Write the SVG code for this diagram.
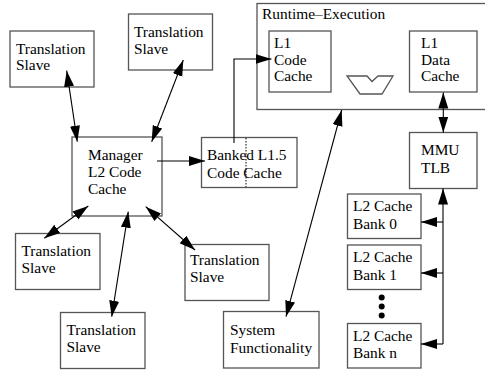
<svg xmlns="http://www.w3.org/2000/svg" width="485" height="372" viewBox="0 0 485 372">
<style>
.box{fill:#fff;stroke:#555;stroke-width:1.3}
.t{font-family:"Liberation Serif","Times New Roman",serif;font-size:15.4px;fill:#000}
.ln{fill:none;stroke:#000;stroke-width:1.1}
</style>
<defs>
<marker id="ah" markerUnits="userSpaceOnUse" markerWidth="17" markerHeight="11" refX="16" refY="5" orient="auto-start-reverse" viewBox="0 0 17 11">
<path d="M0,0 L16,5 L0,10 z" fill="#000"/>
</marker>
</defs>
<rect width="485" height="372" fill="#fff"/>
<g id="runtime">
<rect class="box" x="257" y="3.5" width="230" height="106"/>
<text class="t" x="262" y="19">Runtime–Execution</text>
</g>
<g id="l1code">
<rect class="box" x="269" y="31" width="62" height="61"/>
<text class="t" x="274" y="48">L1</text>
<text class="t" x="274" y="64.5">Code</text>
<text class="t" x="274" y="81">Cache</text>
</g>
<g id="l1data">
<rect class="box" x="409.5" y="31" width="67.5" height="61"/>
<text class="t" x="421" y="48">L1</text>
<text class="t" x="421" y="64.5">Data</text>
<text class="t" x="421" y="81">Cache</text>
</g>
<g id="mux">
<path d="M347,76 L367,76 L372,81.5 L378,76 L393,76 L382,94 L360,94 Z" fill="#fff" stroke="#555" stroke-width="1.3"/>
</g>
<g id="ts1">
<rect class="box" x="10" y="31" width="84" height="56"/>
<text class="t" x="16" y="53.5">Translation</text>
<text class="t" x="16" y="69.5">Slave</text>
</g>
<g id="ts2">
<rect class="box" x="128.5" y="14" width="84" height="56"/>
<text class="t" x="134" y="37">Translation</text>
<text class="t" x="134" y="53.5">Slave</text>
</g>
<g id="manager">
<rect class="box" x="72" y="137" width="90" height="79"/>
<text class="t" x="88" y="160">Manager</text>
<text class="t" x="88" y="177">L2 Code</text>
<text class="t" x="88" y="193.5">Cache</text>
</g>
<g id="banked">
<rect class="box" x="201.5" y="137.5" width="95.5" height="50"/>
<line x1="246" y1="138" x2="246" y2="187" stroke="#000" stroke-width="1" stroke-dasharray="1.5,1.5"/>
<text class="t" x="207" y="160">Banked L1.5</text>
<text class="t" x="207" y="178">Code Cache</text>
</g>
<g id="mmu">
<rect class="box" x="409.5" y="132.5" width="67.5" height="56"/>
<text class="t" x="421" y="155">MMU</text>
<text class="t" x="421" y="172.5">TLB</text>
</g>
<g id="ts3">
<rect class="box" x="15.5" y="233.5" width="84.5" height="56"/>
<text class="t" x="21.5" y="256">Translation</text>
<text class="t" x="21.5" y="272.5">Slave</text>
</g>
<g id="ts5">
<rect class="box" x="185" y="244.5" width="84" height="56"/>
<text class="t" x="190" y="265">Translation</text>
<text class="t" x="190" y="281.5">Slave</text>
</g>
<g id="ts4">
<rect class="box" x="60.5" y="312.5" width="84.5" height="56"/>
<text class="t" x="66.5" y="335">Translation</text>
<text class="t" x="66.5" y="351.5">Slave</text>
</g>
<g id="sysfunc">
<rect class="box" x="223.5" y="311.5" width="95.5" height="56.5"/>
<text class="t" x="230" y="335">System</text>
<text class="t" x="230" y="353">Functionality</text>
</g>
<g id="bank0">
<rect class="box" x="347.5" y="194" width="73.5" height="44.5"/>
<text class="t" x="353" y="211">L2 Cache</text>
<text class="t" x="353" y="228.5">Bank 0</text>
</g>
<g id="bank1">
<rect class="box" x="347.5" y="245" width="73.5" height="44.5"/>
<text class="t" x="353" y="262">L2 Cache</text>
<text class="t" x="353" y="279.5">Bank 1</text>
</g>
<g id="dots">
<circle cx="381.7" cy="297.5" r="3"/>
<circle cx="381.7" cy="306.5" r="3"/>
<circle cx="381.7" cy="315.5" r="3"/>
</g>
<g id="bankn">
<rect class="box" x="347.5" y="323.5" width="73.5" height="44.5"/>
<text class="t" x="353" y="340.5">L2 Cache</text>
<text class="t" x="353" y="358">Bank n</text>
</g>
<g id="connectors">
<line class="ln" x1="66.7" y1="70.7" x2="77.3" y2="141.7" marker-start="url(#ah)" marker-end="url(#ah)"/>
<line class="ln" x1="183.3" y1="60" x2="151.7" y2="141.7" marker-start="url(#ah)" marker-end="url(#ah)"/>
<line class="ln" x1="157" y1="161" x2="205" y2="161" marker-end="url(#ah)"/>
<path class="ln" d="M234,143 V59 H271.5" marker-end="url(#ah)"/>
<line class="ln" x1="88.3" y1="206" x2="44.3" y2="238.3" marker-start="url(#ah)" marker-end="url(#ah)"/>
<line class="ln" x1="128.3" y1="211.7" x2="111.7" y2="316.7" marker-start="url(#ah)" marker-end="url(#ah)"/>
<line class="ln" x1="145.7" y1="206.7" x2="195" y2="250" marker-start="url(#ah)" marker-end="url(#ah)"/>
<line class="ln" x1="341.7" y1="110" x2="286" y2="316.7" marker-start="url(#ah)" marker-end="url(#ah)"/>
<line class="ln" x1="443.3" y1="92.5" x2="443.3" y2="132.5" marker-start="url(#ah)" marker-end="url(#ah)"/>
<path class="ln" d="M443,344 V188.5" marker-end="url(#ah)"/>
<path class="ln" d="M443,222 H421" marker-end="url(#ah)"/>
<path class="ln" d="M443,273 H421" marker-end="url(#ah)"/>
<path class="ln" d="M443,344 H421" marker-end="url(#ah)"/>
</g>
</svg>
